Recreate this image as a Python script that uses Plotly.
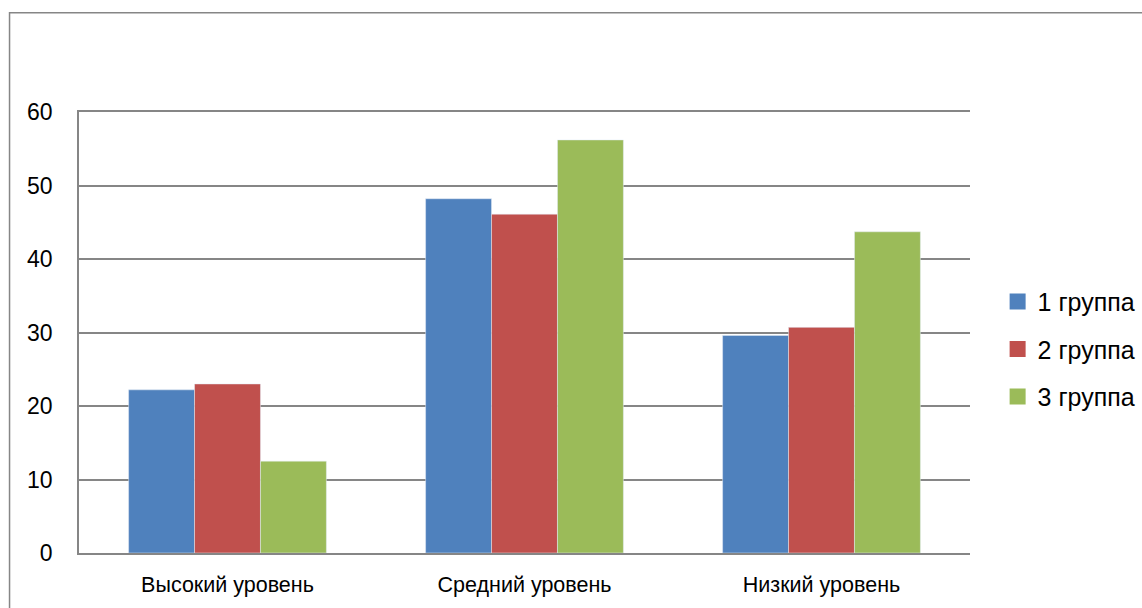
import plotly.graph_objects as go

categories = ["Высокий уровень", "Средний уровень", "Низкий уровень"]
series_names = ["1 группа", "2 группа", "3 группа"]
group1 = [22.2, 48.2, 29.6]
group2 = [23.0, 46.1, 30.7]
group3 = [12.5, 56.2, 43.7]
colors = ["#4F81BD", "#C0504D", "#9BBB59"]
y_ticks = [0, 10, 20, 30, 40, 50, 60]

FONT = "Liberation Sans"

fig = go.Figure()
for name, vals, col in zip(series_names, [group1, group2, group3], colors):
    fig.add_trace(go.Bar(x=categories, y=vals, name=name, marker_color=col,
                         showlegend=False))
    fig.add_trace(go.Scatter(x=[None], y=[None], mode="markers", name=name,
                             marker=dict(symbol="square", size=16, color=col),
                             legendgroup=name, showlegend=True))

fig.update_layout(
    width=1142, height=608,
    margin=dict(l=78.5, r=172, t=112.3, b=54.7, autoexpand=False),
    paper_bgcolor="white", plot_bgcolor="white",
    barmode="group", bargap=0.334, bargroupgap=0,
    font=dict(family=FONT, size=21, color="black"),
    legend=dict(x=1.031, xanchor="left", y=0.462, yanchor="middle",
                font=dict(size=25, family=FONT), tracegroupgap=12,
                itemsizing="trace"),
    shapes=[dict(type="rect", xref="paper", yref="paper",
                 x0=(9 - 78.5) / 891.5, x1=(1200 - 78.5) / 891.5,
                 y0=(553.3 - 680) / 441, y1=(553.3 - 13) / 441,
                 line=dict(color="#868686", width=1.5), layer="below")],
)
fig.update_xaxes(showgrid=False, showline=True, mirror=True, linecolor="#868686",
                 linewidth=1.5, ticks="", ticklabelstandoff=11,
                 tickfont=dict(size=21.5))
fig.update_yaxes(range=[0, 60], tickvals=y_ticks, showgrid=True, gridcolor="#868686",
                 gridwidth=1.5, showline=True, linecolor="#868686", linewidth=1.5,
                 zeroline=False, ticks="", ticklabelstandoff=20,
                 tickfont=dict(size=23))

fig.write_html("out.html")
